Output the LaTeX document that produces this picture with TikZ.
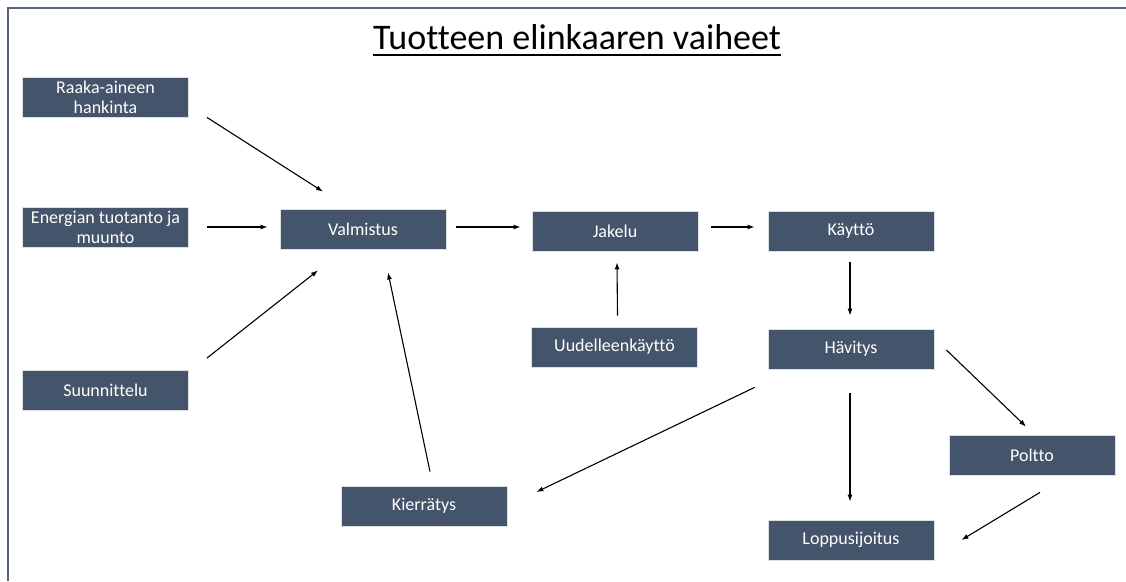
\documentclass[tikz,border=0pt]{standalone}
\usepackage{fontspec}
\setmainfont{Carlito}[Ligatures=NoCommon]
\usetikzlibrary{arrows.meta}

\definecolor{boxblue}{HTML}{44546A}
\definecolor{framegray}{HTML}{55657D}

\tikzset{
	stage/.style={rectangle,fill=boxblue,draw=gray!25,line width=0.8pt,
		minimum width=166pt,minimum height=40pt,inner xsep=2pt,inner ysep=0pt,
		text=white,align=center,font=\fontsize{18}{20}\selectfont},
	arr/.style={line width=1.1pt,-{Latex[length=7pt,width=5pt]}}
}

\begin{document}
\begin{tikzpicture}[x=1pt,y=-1pt]
		\useasboundingbox (0,0) rectangle (1126,581);
		\draw[framegray,line width=2pt] (1126,8) -- (8,8) -- (8,581);

		% title
		\node[inner sep=0pt,anchor=base,font=\fontsize{36}{40}\selectfont] (title) at (577,49) {Tuotteen elinkaaren vaiheet};
		\draw[line width=1.8pt] ([yshift=-6pt]title.base west) -- ([yshift=-6pt]title.base east);

		% stages
		\node[stage] (raaka) at (105.5,97) {Raaka-aineen\\hankinta};
		\node[stage] (energia) at (105.5,227) {Energian tuotanto ja\\muunto};
		\node[stage] (suunn) at (105.5,390.5) {Suunnittelu};
		\node[stage] (valm) at (363,229) {Valmistus};
		\node[stage] (jakelu) at (615,231) {Jakelu};
		\node[stage] (kaytto) at (851,231) {Käyttö};
		\node[stage] (uudel) at (614.5,347) {Uudelleenkäyttö};
		\node[stage] (havit) at (851,349) {Hävitys};
		\node[stage] (poltto) at (1032,455) {Poltto};
		\node[stage] (kierr) at (424,506) {Kierrätys};
		\node[stage] (loppu) at (851,540) {Loppusijoitus};

		% arrows
		\draw[arr] ([xshift=18pt]raaka.south east) -- ([xshift=-40pt,yshift=17pt]valm.north);
		\draw[arr] ([xshift=18pt]energia.east) -- ([xshift=-12pt,yshift=2pt]valm.west);
		\draw[arr] ([xshift=18pt,yshift=12pt]suunn.north east) -- ([xshift=-45pt,yshift=-21pt]valm.south);
		\draw[arr] ([xshift=10pt,yshift=2pt]valm.east) -- ([xshift=-11pt,yshift=4pt]jakelu.west);
		\draw[arr] ([xshift=13pt,yshift=4pt]jakelu.east) -- ([xshift=-13pt,yshift=4pt]kaytto.west);
		\draw[arr] ([xshift=3pt,yshift=11pt]uudel.north) -- ([xshift=2pt,yshift=-11pt]jakelu.south);
		\draw[arr] ([xshift=-1pt,yshift=-11pt]kaytto.south) -- ([xshift=-1pt,yshift=13pt]havit.north);
		\draw[arr] ([xshift=6pt,yshift=14pt]kierr.north) -- ([xshift=25pt,yshift=-23pt]valm.south);
		\draw[arr] ([xshift=-13pt,yshift=-18pt]havit.south west) -- ([xshift=29pt,yshift=14pt]kierr.east);
		\draw[arr] ([xshift=-1pt,yshift=-24pt]havit.south) -- ([xshift=-1pt,yshift=18pt]loppu.north);
		\draw[arr] ([xshift=12pt,yshift=-1pt]havit.east) -- ([xshift=-6pt,yshift=8pt]poltto.north);
		\draw[arr] ([xshift=8pt,yshift=-17pt]poltto.south) -- ([xshift=27pt]loppu.east);
	\end{tikzpicture}
\end{document}
